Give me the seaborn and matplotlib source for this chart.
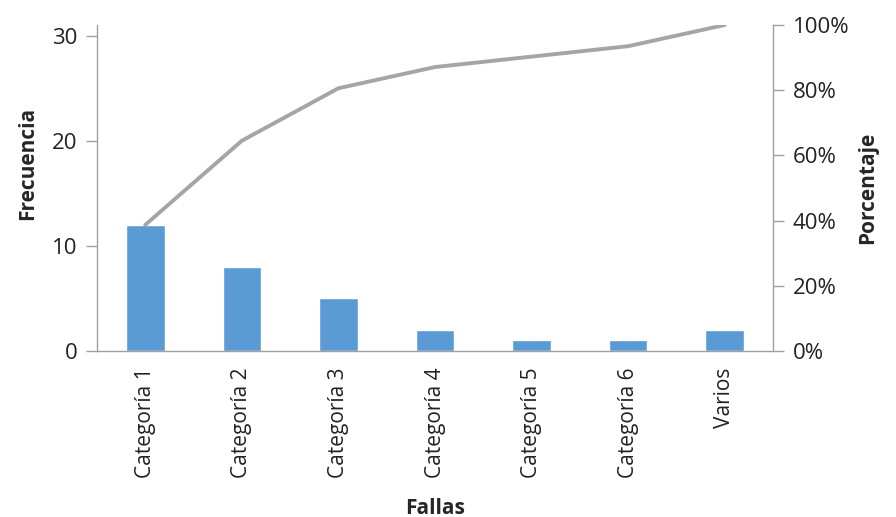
import matplotlib
matplotlib.use("Agg")
import matplotlib.pyplot as plt
import seaborn as sns
import numpy as np
import pandas as pd
from matplotlib.ticker import PercentFormatter

categories = ["Categoría 1", "Categoría 2", "Categoría 3", "Categoría 4",
              "Categoría 5", "Categoría 6", "Varios"]
frecuencia = [12, 8, 5, 2, 1, 1, 2]
porcentaje = [0.387, 0.645, 0.806, 0.871, 0.903, 0.935, 1.0]

sns.set_theme(style="white")
plt.rcParams['font.family'] = ['Open Sans', 'DejaVu Sans']

df = pd.DataFrame({"cat": categories, "freq": frecuencia, "pct": porcentaje})

fig = plt.figure(figsize=(8.96, 5.17), dpi=100)
ax = fig.add_axes([97/896, 1 - 351/517, (773 - 97)/896, (351 - 25)/517])

sns.barplot(data=df, x="cat", y="freq", color="#5B9BD5", saturation=1,
            width=0.40, ax=ax)
ax.set_xlim(-0.5, 6.5)
ax.set_ylim(0, 31)
ax.set_yticks([0, 10, 20, 30])

ax2 = ax.twinx()
xpos = np.arange(len(categories))
sns.lineplot(x=xpos, y=porcentaje, color="#A5A5A5", linewidth=2.8, ax=ax2,
             sort=False)
ax2.set_ylim(0, 1.0)
ax2.set_yticks([0, 0.2, 0.4, 0.6, 0.8, 1.0])
ax2.yaxis.set_major_formatter(PercentFormatter(1.0, decimals=0))
ax.set_xlim(-0.5, 6.5)

gray = "#A0A0A0"
for a in (ax, ax2):
    a.spines['top'].set_visible(False)
    for s in ('left', 'right', 'bottom'):
        a.spines[s].set_color(gray)
        a.spines[s].set_linewidth(1)
ax.spines['right'].set_visible(False)
ax2.spines['left'].set_visible(False)
ax2.spines['bottom'].set_visible(False)

ax.set_xticks(xpos)
ax.set_xticklabels(categories, rotation=90)
ax.tick_params(axis='x', length=0, pad=12, labelsize=15, colors="#222222")
ax.set_xticks(np.arange(-0.5, 7.0, 1.0), minor=True)
ax.tick_params(axis='x', which='minor', length=9, color=gray, width=1, direction='out')
ax.tick_params(axis='y', length=8, color=gray, width=1, direction='out',
               labelsize=16, colors="#222222", left=True, pad=6)
ax2.tick_params(axis='y', length=8, color=gray, width=1, direction='out',
                labelsize=16, colors="#222222", right=True, pad=6)

ax.set_xlabel("Fallas", fontsize=15, fontweight='bold', labelpad=14)
ax.set_ylabel("Frecuencia", fontsize=15, fontweight='bold')
ax.yaxis.set_label_coords(-0.087, 0.574)
ax2.set_ylabel("Porcentaje", fontsize=15, fontweight='bold', labelpad=6)

fig.savefig("out.png", dpi=100)
